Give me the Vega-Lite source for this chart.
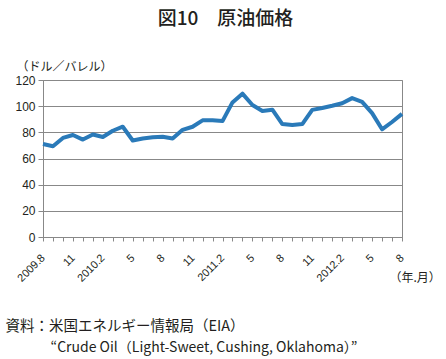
{
  "$schema": "https://vega.github.io/schema/vega-lite/v6.json",
  "width": 359,
  "height": 157,
  "autosize": {"type": "none"},
  "padding": {"left": 43, "top": 80, "right": 44, "bottom": 122},
  "background": "white",
  "title": {"text": "図10　原油価格", "fontSize": 19, "font": "Noto Sans CJK JP", "fontWeight": 500, "color": "#231f20", "anchor": "middle", "baseline": "alphabetic", "offset": 16, "dx": 3},
  "data": {"values": [
    {"ym": "2009.08", "price": 71.05}, {"ym": "2009.09", "price": 69.41}, {"ym": "2009.10", "price": 75.72}, {"ym": "2009.11", "price": 77.99}, {"ym": "2009.12", "price": 74.47},
    {"ym": "2010.01", "price": 78.33}, {"ym": "2010.02", "price": 76.39}, {"ym": "2010.03", "price": 81.2}, {"ym": "2010.04", "price": 84.29}, {"ym": "2010.05", "price": 73.74}, {"ym": "2010.06", "price": 75.34}, {"ym": "2010.07", "price": 76.32}, {"ym": "2010.08", "price": 76.6}, {"ym": "2010.09", "price": 75.24}, {"ym": "2010.10", "price": 81.89}, {"ym": "2010.11", "price": 84.25}, {"ym": "2010.12", "price": 89.15},
    {"ym": "2011.01", "price": 89.17}, {"ym": "2011.02", "price": 88.58}, {"ym": "2011.03", "price": 102.86}, {"ym": "2011.04", "price": 109.53}, {"ym": "2011.05", "price": 100.9}, {"ym": "2011.06", "price": 96.26}, {"ym": "2011.07", "price": 97.3}, {"ym": "2011.08", "price": 86.33}, {"ym": "2011.09", "price": 85.52}, {"ym": "2011.10", "price": 86.32}, {"ym": "2011.11", "price": 97.16}, {"ym": "2011.12", "price": 98.56},
    {"ym": "2012.01", "price": 100.27}, {"ym": "2012.02", "price": 102.2}, {"ym": "2012.03", "price": 106.16}, {"ym": "2012.04", "price": 103.32}, {"ym": "2012.05", "price": 94.66}, {"ym": "2012.06", "price": 82.3}, {"ym": "2012.07", "price": 87.9}, {"ym": "2012.08", "price": 94.13}
  ]},
  "encoding": {
    "y": {"field": "price", "type": "quantitative", "scale": {"domain": [0, 120]},
      "axis": {
        "values": [0, 20, 40, 60, 80, 100, 120], "labelOverlap": false, "tickSize": 5, "labelPadding": 3, "labelFontSize": 12, "labelFont": "Liberation Sans", "grid": true,
        "title": "（ドル／バレル）", "titleAngle": 0, "titleAlign": "left", "titleBaseline": "middle", "titleX": -27, "titleY": -14, "titleFontSize": 12, "titleFontWeight": "normal"
      }
    }
  },
  "layer": [
    {
      "mark": {"type": "line", "color": "#2a7ab9", "strokeWidth": 4, "strokeJoin": "round"},
      "encoding": {
        "x": {"field": "ym", "type": "ordinal", "sort": null, "scale": {"type": "point", "padding": 0},
          "axis": {
            "labelExpr": "(toNumber(slice(datum.value,5)) % 3 != 2) ? '' : (datum.value == '2009.08' ? '2009.8' : (toNumber(slice(datum.value,5)) == 2 ? slice(datum.value,0,4) + '.2' : '' + toNumber(slice(datum.value,5))))",
            "labelAngle": -45, "labelAlign": "right", "labelBaseline": "middle", "labelPadding": 15, "labelFontSize": 11, "labelFont": "Liberation Sans", "labelOverlap": false, "labelBound": false,
            "tickSize": 4, "grid": false,
            "title": "（年.月）", "titleAngle": 0, "titleAlign": "left", "titleBaseline": "middle", "titleX": 346, "titleY": 40, "titleFontSize": 12, "titleFontWeight": "normal"
          }
        }
      }
    },
    {
      "mark": {"type": "line", "opacity": 0},
      "encoding": {
        "x": {"field": "ym", "type": "ordinal", "sort": null, "scale": {"type": "point", "padding": 0},
          "axis": {
            "orient": "bottom", "labels": false, "ticks": false, "domain": false, "grid": false,
            "title": "資料：米国エネルギー情報局（EIA）",
            "titleAngle": 0, "titleAlign": "left", "titleBaseline": "middle", "titleX": -38, "titleY": 89, "titleFontSize": 14.5, "titleFontWeight": "normal"
          }
        }
      }
    },
    {
      "mark": {"type": "line", "opacity": 0},
      "encoding": {
        "x": {"field": "ym", "type": "ordinal", "sort": null, "scale": {"type": "point", "padding": 0},
          "axis": {
            "orient": "bottom", "labels": false, "ticks": false, "domain": false, "grid": false,
            "title": "“Crude Oil（Light-Sweet, Cushing, Oklahoma）”",
            "titleAngle": 0, "titleAlign": "left", "titleBaseline": "middle", "titleX": 7, "titleY": 110, "titleFontSize": 14, "titleFontWeight": "normal"
          }
        }
      }
    }
  ],
  "resolve": {"axis": {"x": "independent"}},
  "config": {
    "font": "Noto Sans CJK JP",
    "view": {"stroke": "#888", "strokeWidth": 1},
    "axis": {"labelColor": "#231f20", "titleColor": "#231f20", "domainColor": "#888", "tickColor": "#888", "gridColor": "#888"}
  }
}
